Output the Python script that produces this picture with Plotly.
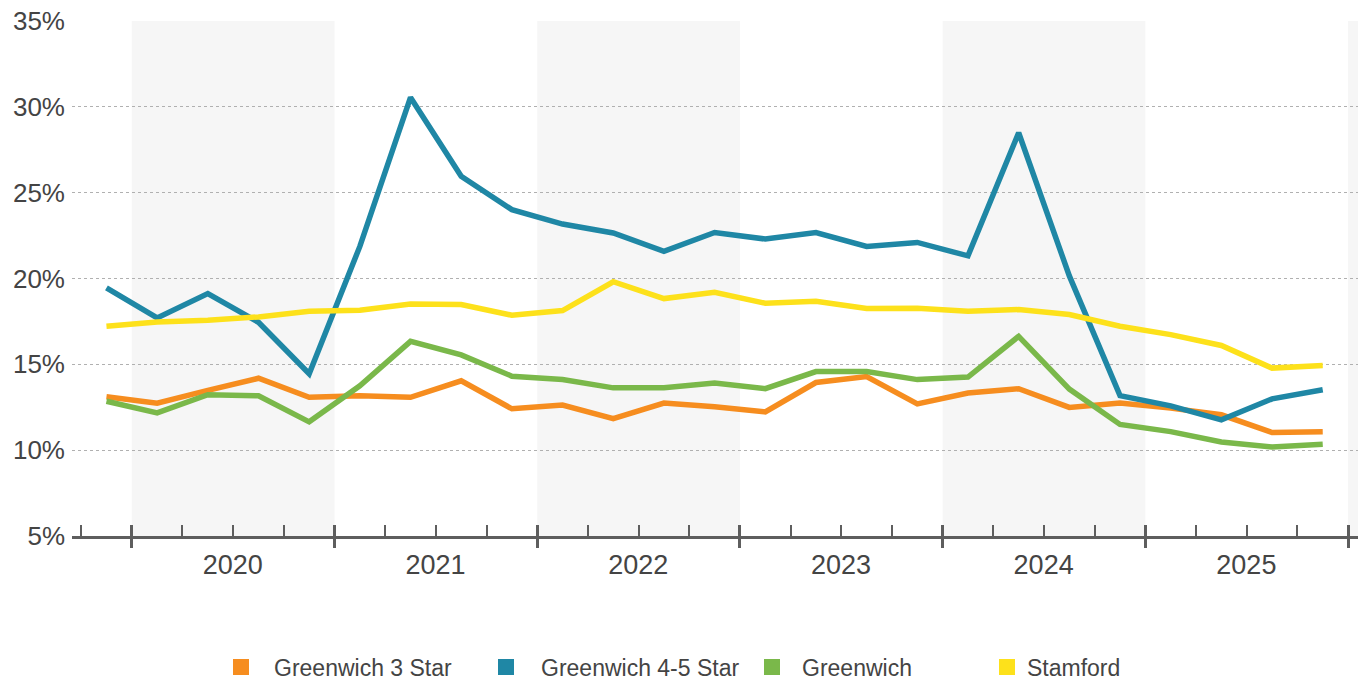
import plotly.graph_objects as go

# Quarterly series, Q4 2019 through Q4 2025 (percent)
quarters = [
    "2019 Q4",
    "2020 Q1", "2020 Q2", "2020 Q3", "2020 Q4",
    "2021 Q1", "2021 Q2", "2021 Q3", "2021 Q4",
    "2022 Q1", "2022 Q2", "2022 Q3", "2022 Q4",
    "2023 Q1", "2023 Q2", "2023 Q3", "2023 Q4",
    "2024 Q1", "2024 Q2", "2024 Q3", "2024 Q4",
    "2025 Q1", "2025 Q2", "2025 Q3", "2025 Q4",
]

greenwich_3_star = [
    13.11, 12.74, 13.48, 14.19, 13.08, 13.17, 13.08, 14.04, 12.41, 12.63,
    11.84, 12.74, 12.53, 12.23, 13.94, 14.29, 12.70, 13.33, 13.58, 12.49,
    12.75, 12.45, 12.06, 11.03, 11.08,
]
greenwich_45_star = [
    19.46, 17.70, 19.12, 17.45, 14.45, 21.87, 30.55, 25.95, 24.01, 23.17,
    22.65, 21.58, 22.68, 22.30, 22.68, 21.87, 22.10, 21.32, 28.49, 20.15,
    13.18, 12.58, 11.77, 12.99, 13.52,
]
greenwich = [
    12.85, 12.17, 13.23, 13.17, 11.65, 13.75, 16.34, 15.55, 14.31, 14.12,
    13.63, 13.63, 13.91, 13.58, 14.58, 14.58, 14.11, 14.26, 16.63, 13.56,
    11.50, 11.08, 10.48, 10.19, 10.35,
]
stamford = [
    17.22, 17.47, 17.57, 17.76, 18.09, 18.15, 18.52, 18.48, 17.86, 18.13,
    19.81, 18.83, 19.20, 18.56, 18.67, 18.25, 18.27, 18.09, 18.19, 17.90,
    17.22, 16.73, 16.10, 14.78, 14.93,
]

series_names = ["Greenwich 3 Star", "Greenwich 4-5 Star", "Greenwich", "Stamford"]
series_values = [greenwich_3_star, greenwich_45_star, greenwich, stamford]
series_colors = ["#F68D1F", "#1F87A5", "#7AB84A", "#FDE11B"]

years = [2020, 2021, 2022, 2023, 2024, 2025, 2026]
year_labels = ["2020", "2021", "2022", "2023", "2024", "2025", ""]
shaded_years = [2020, 2022, 2024, 2026]
y_ticks = [5, 10, 15, 20, 25, 30, 35]
y_labels = [f"{v}%" for v in y_ticks]

# legend layout: swatch centre (px) and swatch-to-text spacing per entry
legend_centres = [241, 506, 772, 1007]
legend_item_widths = [56, 60, 50, 30]

W, H = 1369, 682
M_L, M_R, M_T, M_B = 72, 11, 21, 146
PLOT_W = W - M_L - M_R
PLOT_H = H - M_T - M_B


def quarter_mid(label):
    """Centre of a calendar quarter on a decimal-year axis."""
    yr, q = label.split(" Q")
    return int(yr) + (int(q) - 0.5) / 4


x_pos = [quarter_mid(q) for q in quarters]
x_range = [2019.705, 2026.049]
quarter_edges = [y + k / 4 for y in [2019] + years[:-1] for k in (1, 2, 3) if y + k / 4 > x_range[0]]

AXIS_COLOR = "#5e5e5e"
TEXT_COLOR = "#444444"
FONT = "Liberation Sans, Arial, sans-serif"

fig = go.Figure()

for name, vals, color in zip(series_names, series_values, series_colors):
    fig.add_trace(go.Scatter(
        x=x_pos, y=vals, mode="lines", name=name,
        line=dict(color=color, width=5.5), showlegend=False,
        hovertemplate=name + ": %{y:.1f}%<extra></extra>",
    ))

# square swatches, one legend box per entry
legend_layouts = {}
for i, (name, color) in enumerate(zip(series_names, series_colors)):
    key = "legend" if i == 0 else f"legend{i + 1}"
    fig.add_trace(go.Scatter(
        x=[None], y=[None], mode="markers", name=name, legend=key,
        marker=dict(symbol="square", size=16, color=color),
    ))
    iw = legend_item_widths[i]
    left_px = legend_centres[i] - (5 + iw / 2)
    legend_layouts[key] = dict(
        orientation="h", x=(left_px - M_L) / PLOT_W, xanchor="left",
        y=-(667 - (H - M_B)) / PLOT_H, yanchor="middle",
        font=dict(size=23, color=TEXT_COLOR), itemclick=False,
        itemwidth=iw, bgcolor="rgba(0,0,0,0)",
    )

# carrier for the downward half of the year ticks
fig.add_trace(go.Scatter(x=[], y=[], xaxis="x2", showlegend=False, hoverinfo="skip"))

# alternating year bands
for yr in shaded_years:
    fig.add_shape(
        type="rect", xref="x", yref="paper",
        x0=yr, x1=min(yr + 1, x_range[1]), y0=0, y1=1,
        fillcolor="#f6f6f6", line=dict(width=0), layer="below",
    )

fig.update_layout(
    width=W, height=H,
    margin=dict(l=M_L, r=M_R, t=M_T, b=M_B, autoexpand=False),
    paper_bgcolor="white", plot_bgcolor="white",
    font=dict(family=FONT, color=TEXT_COLOR),
    showlegend=True,
    **legend_layouts,
    xaxis=dict(
        range=x_range, showgrid=False, zeroline=False,
        showline=True, linecolor=AXIS_COLOR, linewidth=3,
        tickmode="array", tickvals=years, ticktext=year_labels,
        ticks="inside", ticklen=11, tickwidth=3, tickcolor=AXIS_COLOR,
        ticklabelshift=101, ticklabelstandoff=3,
        tickfont=dict(size=27, color=TEXT_COLOR),
        minor=dict(
            tickmode="array", tickvals=quarter_edges,
            ticks="inside", ticklen=11, tickwidth=2, tickcolor=AXIS_COLOR,
            showgrid=False,
        ),
    ),
    xaxis2=dict(
        overlaying="x", anchor="y", side="bottom", range=x_range,
        showgrid=False, zeroline=False, showline=False,
        tickmode="array", tickvals=years, showticklabels=False,
        ticks="outside", ticklen=11, tickwidth=3, tickcolor=AXIS_COLOR,
    ),
    yaxis=dict(
        range=[5, 35], tickmode="array", tickvals=y_ticks, ticktext=y_labels,
        ticks="", ticklabelstandoff=6,
        showgrid=True, gridcolor="#b0b0b0", gridwidth=1, griddash="dot",
        zeroline=False, showline=False,
        tickfont=dict(size=26, color=TEXT_COLOR),
    ),
)

fig.write_html("out.html")
